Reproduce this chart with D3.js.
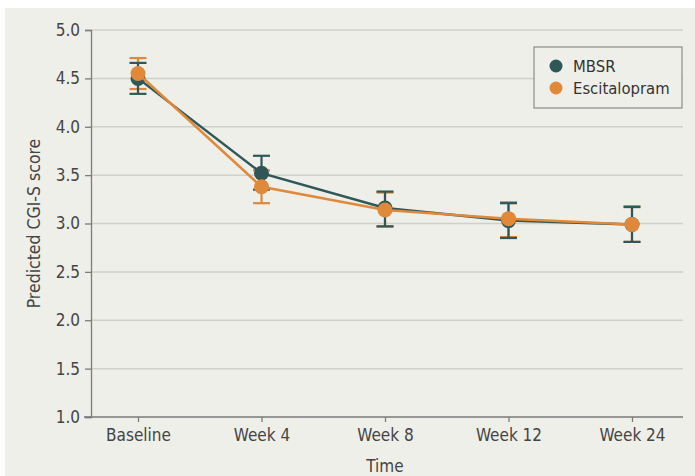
<!DOCTYPE html>
<html>
<head>
<meta charset="utf-8">
<script src="https://cdn.jsdelivr.net/npm/d3@7"></script>
<style>
  html, body { margin: 0; padding: 0; background: #ffffff; }
  svg { display: block; }
  text { font-family: "DejaVu Sans Condensed", "DejaVu Sans", sans-serif; font-stretch: condensed; }
</style>
</head>
<body>
<svg id="chart" width="695" height="476"></svg>
<script>
// Time points and predicted CGI-S scores with 95% CIs
const timepoints = ["Baseline", "Week 4", "Week 8", "Week 12", "Week 24"];
const mbsrMean = [4.50, 3.52, 3.16, 3.03, 2.99];
const mbsrLow  = [4.34, 3.35, 2.97, 2.85, 2.81];
const mbsrHigh = [4.66, 3.70, 3.33, 3.21, 3.17];
const escMean  = [4.55, 3.38, 3.14, 3.05, 2.99];
const escLow   = [4.39, 3.21, 2.97, 2.86, 2.81];
const escHigh  = [4.71, 3.55, 3.32, 3.22, 3.18];
const yTicks = [1.0, 1.5, 2.0, 2.5, 3.0, 3.5, 4.0, 4.5, 5.0];
const seriesNames = ["MBSR", "Escitalopram"];
const seriesColors = ["#2f5758", "#e0893a"];

const svg = d3.select("#chart");
const W = 695, H = 476;
const m = { left: 91, right: 12, top: 30, bottom: 59 };

// panel background
svg.append("rect").attr("x", 5).attr("y", 8).attr("width", W - 5).attr("height", H - 8)
  .attr("fill", "#efefea");

const x = d3.scalePoint().domain(timepoints).range([138, 632]);
const y = d3.scaleLinear().domain([1, 5]).range([H - m.bottom, m.top]);

// horizontal gridlines
svg.append("g").selectAll("line").data(yTicks.filter(d => d > 1)).join("line")
  .attr("x1", m.left).attr("x2", 683)
  .attr("y1", d => y(d)).attr("y2", d => y(d))
  .attr("stroke", "#d0d0cb").attr("stroke-width", 1.5);

// y axis
const yAxis = svg.append("g").attr("transform", `translate(${m.left},0)`)
  .call(d3.axisLeft(y).tickValues(yTicks).tickFormat(d3.format(".1f")).tickSize(6).tickPadding(5));
yAxis.select(".domain").attr("stroke", "#7a7a7a").attr("stroke-width", 1.3);
yAxis.selectAll(".tick line").attr("stroke", "#7a7a7a").attr("stroke-width", 1.3);
yAxis.selectAll(".tick text").attr("font-size", 17).attr("fill", "#444");

// x axis
const xAxis = svg.append("g").attr("transform", `translate(0,${y(1)})`)
  .call(d3.axisBottom(x).tickSize(5).tickPadding(7).tickSizeOuter(0));
xAxis.select(".domain").attr("d", `M84,0H683`).attr("stroke", "#7a7a7a").attr("stroke-width", 1.3);
xAxis.selectAll(".tick line").attr("stroke", "#7a7a7a").attr("stroke-width", 1.3);
xAxis.selectAll(".tick text").attr("font-size", 17).attr("fill", "#444");

// axis titles
svg.append("text").attr("x", 385).attr("y", 472).attr("text-anchor", "middle")
  .attr("font-size", 17).attr("fill", "#444").text("Time");
svg.append("text").attr("transform", `translate(40,${(y(1) + y(5)) / 2}) rotate(-90)`)
  .attr("text-anchor", "middle").attr("font-size", 17.5).attr("fill", "#444")
  .text("Predicted CGI-S score");

const series = [
  { name: seriesNames[0], color: seriesColors[0], mean: mbsrMean, lo: mbsrLow, hi: mbsrHigh },
  { name: seriesNames[1], color: seriesColors[1], mean: escMean, lo: escLow, hi: escHigh }
];

// error bars (escitalopram beneath MBSR)
const capHalf = 8.5;
[series[1], series[0]].forEach(s => {
  const g = svg.append("g").attr("stroke", s.color).attr("stroke-width", 2.2);
  timepoints.forEach((t, i) => {
    g.append("line").attr("x1", x(t)).attr("x2", x(t)).attr("y1", y(s.lo[i])).attr("y2", y(s.hi[i]));
    g.append("line").attr("x1", x(t) - capHalf).attr("x2", x(t) + capHalf).attr("y1", y(s.lo[i])).attr("y2", y(s.lo[i]));
    g.append("line").attr("x1", x(t) - capHalf).attr("x2", x(t) + capHalf).attr("y1", y(s.hi[i])).attr("y2", y(s.hi[i]));
  });
});

// lines and points
const line = d3.line().x((d, i) => x(timepoints[i])).y(d => y(d));
series.forEach(s => {
  svg.append("path").datum(s.mean).attr("d", line)
    .attr("fill", "none").attr("stroke", s.color).attr("stroke-width", 2.5);
  svg.append("g").selectAll("circle").data(s.mean).join("circle")
    .attr("cx", (d, i) => x(timepoints[i])).attr("cy", d => y(d)).attr("r", 7.5)
    .attr("fill", s.color);
});

// legend
const lg = svg.append("g").attr("transform", "translate(534,47)");
lg.append("rect").attr("width", 148).attr("height", 61)
  .attr("fill", "#efefea").attr("stroke", "#8a8a8a").attr("stroke-width", 1.2);
series.forEach((s, i) => {
  lg.append("circle").attr("cx", 22).attr("cy", 19 + i * 22).attr("r", 6.5).attr("fill", s.color);
  lg.append("text").attr("x", 39).attr("y", 19 + i * 22).attr("dy", "0.35em")
    .attr("font-size", 16.5).attr("fill", "#333").text(s.name);
});
</script>
</body>
</html>
